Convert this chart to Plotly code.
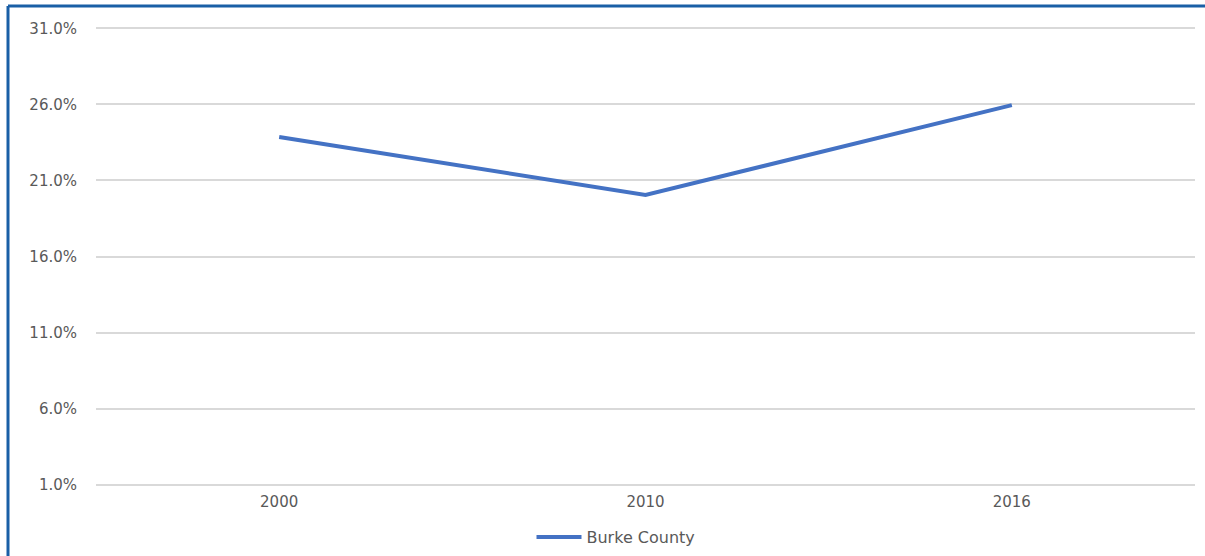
import plotly.graph_objects as go

years = ["2000", "2010", "2016"]
burke_county = [23.85, 20.05, 25.95]
y_ticks = [1, 6, 11, 16, 21, 26, 31]
y_tick_labels = ["1.0%", "6.0%", "11.0%", "16.0%", "21.0%", "26.0%", "31.0%"]

fig = go.Figure()

fig.add_trace(
    go.Scatter(
        x=years,
        y=burke_county,
        name="Burke County",
        mode="lines",
        line=dict(color="#4472C4", width=4),
    )
)

# plot area in pixels: x 96..1195, y 26..487 (range padded so edge gridlines show)
pl, pt, pw, ph = 96, 26, 1099, 461
border = "#1a5fa6"
fig.add_shape(type="line", xref="paper", yref="paper",
              x0=(8 - pl) / pw, x1=(1220 - pl) / pw,
              y0=1 + (pt - 6) / ph, y1=1 + (pt - 6) / ph,
              line=dict(color=border, width=3))
fig.add_shape(type="line", xref="paper", yref="paper",
              x0=(8 - pl) / pw, x1=(8 - pl) / pw,
              y0=1 + (pt - 6) / ph, y1=-(600 - pt - ph) / ph,
              line=dict(color=border, width=3))

fig.update_layout(
    width=1205,
    height=556,
    margin=dict(l=96, r=10, t=26, b=69, autoexpand=False),
    paper_bgcolor="white",
    plot_bgcolor="white",
    font=dict(family="DejaVu Sans, Arial, sans-serif", size=15, color="#595959"),
    showlegend=True,
    legend=dict(
        orientation="h",
        x=(616 - pl) / pw,
        xanchor="center",
        y=-(537 - pt - ph) / ph,
        yanchor="middle",
        font=dict(size=16, color="#595959"),
        itemwidth=45,
    ),
    xaxis=dict(
        type="category",
        range=[-0.5, 2.5],
        showgrid=False,
        showline=False,
        zeroline=False,
        ticks="",
        ticklabelstandoff=4,
    ),
    yaxis=dict(
        range=[0.85, 31.15],
        tickvals=y_ticks,
        ticktext=y_tick_labels,
        showgrid=True,
        gridcolor="#d9d9d9",
        gridwidth=1.5,
        zeroline=False,
        showline=False,
        ticks="",
        ticklabelstandoff=18,
    ),
)

fig.write_html("out.html", config={"displayModeBar": False},
               post_script="document.body.style.margin='0';")
